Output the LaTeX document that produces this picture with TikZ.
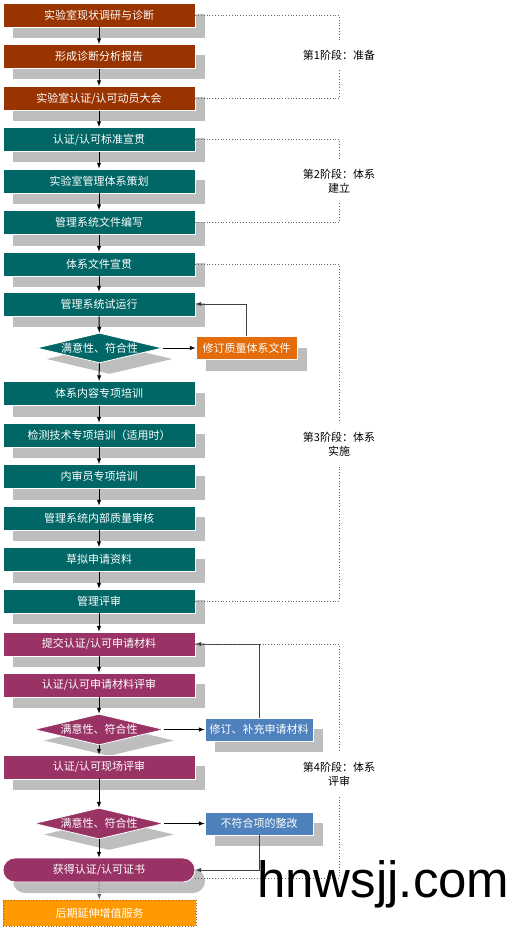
\documentclass[tikz,border=0pt]{standalone}
\usepackage{fontspec}
\setmainfont{Noto Sans CJK SC}
\newfontfamily\wmfont{Liberation Sans}
\usepackage{tikz}
\usetikzlibrary{shapes.geometric, shadows}

\definecolor{rust}{RGB}{153,51,0}
\definecolor{tealbox}{RGB}{0,102,102}
\definecolor{plum}{RGB}{153,51,102}
\definecolor{fixorange}{RGB}{228,108,10}
\definecolor{fixblue}{RGB}{79,129,189}
\definecolor{latergold}{RGB}{255,153,0}
\definecolor{shadowgray}{RGB}{190,190,190}

\begin{document}
\begin{tikzpicture}[x=1pt, y=-1pt,
    boxtext/.style={text=white, font=\fontsize{11}{13}\selectfont, inner sep=0pt},
    boxshadow/.style={drop shadow={shadow xshift=10pt, shadow yshift=-11pt, fill=shadowgray, opacity=1}},
    stage/.style={boxtext, boxshadow, draw=white, line width=0.8pt, minimum width=192pt, minimum height=24pt},
    check/.style={boxtext, boxshadow, diamond, aspect=4, draw=white, line width=0.8pt, minimum width=130pt, minimum height=31pt},
    fixbox/.style={boxtext, boxshadow, draw=white, line width=0.8pt, minimum width=108pt, minimum height=23pt},
    phaselabel/.style={font=\fontsize{11}{14}\selectfont, align=center, inner xsep=0pt, inner ysep=10pt},
    flow/.style={-latex, line width=1pt},
    loopback/.style={-latex, line width=1pt, black!75},
    phaseline/.style={dotted, line width=0.8pt, black!60}]
    \useasboundingbox (0,0) rectangle (512,928);
    % stage 1
    \node[stage, fill=rust] (b1) at (99,15) {实验室现状调研与诊断};
    \node[stage, fill=rust] (b2) at (99,56.5) {形成诊断分析报告};
    \node[stage, fill=rust] (b3) at (99,98.5) {实验室认证/认可动员大会};
    % stage 2
    \node[stage, fill=tealbox] (b4) at (99,139.5) {认证/认可标准宣贯};
    \node[stage, fill=tealbox] (b5) at (99,181) {实验室管理体系策划};
    \node[stage, fill=tealbox] (b6) at (99,222.5) {管理系统文件编写};
    % stage 3
    \node[stage, fill=tealbox] (b7) at (99,264) {体系文件宣贯};
    \node[stage, fill=tealbox] (b8) at (99,304) {管理系统试运行};
    \node[check, fill=tealbox, minimum width=126pt, minimum height=30pt] (d1) at (99.5,348) {满意性、符合性};
    \node[fixbox, fill=fixorange, minimum width=101pt] (fix1) at (246.5,348) {修订质量体系文件};
    \node[stage, fill=tealbox] (b10) at (99,393.5) {体系内容专项培训};
    \node[stage, fill=tealbox] (b11) at (99,435) {检测技术专项培训（适用时）};
    \node[stage, fill=tealbox] (b12) at (99,476.5) {内审员专项培训};
    \node[stage, fill=tealbox] (b13) at (99,518) {管理系统内部质量审核};
    \node[stage, fill=tealbox] (b14) at (99,559.5) {草拟申请资料};
    \node[stage, fill=tealbox] (b15) at (99,601) {管理评审};
    % stage 4
    \node[stage, fill=plum] (b16) at (99,644) {提交认证/认可申请材料};
    \node[stage, fill=plum] (b17) at (99,685) {认证/认可申请材料评审};
    \node[check, fill=plum] (d2) at (99,729.5) {满意性、符合性};
    \node[fixbox, fill=fixblue] (fix2) at (259,729.5) {修订、补充申请材料};
    \node[stage, fill=plum] (b19) at (99,767) {认证/认可现场评审};
    \node[check, fill=plum] (d3) at (99,823.5) {满意性、符合性};
    \node[fixbox, fill=fixblue] (fix3) at (259,823.5) {不符合项的整改};
    \node[stage, fill=plum, rounded corners=12pt] (b21) at (99,870) {获得认证/认可证书};
    \node[boxtext, fill=latergold, draw=orange!70!black, dotted, line width=0.8pt,
          minimum width=193pt, minimum height=26pt] (b22) at (99.5,913) {后期延伸增值服务};

    \foreach \a/\b in {b1/b2, b2/b3, b3/b4, b4/b5, b5/b6, b6/b7, b7/b8, b8/d1, d1/b10,
        b10/b11, b11/b12, b12/b13, b13/b14, b14/b15, b15/b16, b16/b17, b17/d2, d2/b19,
        b19/d3, d3/b21}
        \draw[flow] (\a) -- (\b);
    \draw[flow, dotted, black!60] (b21) -- (b22);
    \draw[flow] (d1.east) -- (fix1.west);
    \draw[flow] (d2.east) -- (fix2.west);
    \draw[flow] (d3.east) -- (fix3.west);
    \draw[loopback] (fix1.north) |- (b8.east);
    \draw[loopback] (fix2.north) |- (b16.east);
    \draw[loopback] (fix3.south) |- (b21.east);

    % phase brackets
    \node[phaselabel] (p1) at (339,55) {第1阶段：准备};
    \node[phaselabel] (p2) at (339,181) {第2阶段：体系\\建立};
    \node[phaselabel] (p3) at (339,444) {第3阶段：体系\\实施};
    \node[phaselabel] (p4) at (339,774) {第4阶段：体系\\评审};
    \draw[phaseline] (b1.east) -| (p1.north);
    \draw[phaseline] (b3.east) -| (p1.south);
    \draw[phaseline] (b4.east) -| (p2.north);
    \draw[phaseline] (b6.east) -| (p2.south);
    \draw[phaseline] (b7.east) -| (p3.north);
    \draw[phaseline] (b15.east) -| (p3.south);
    \draw[phaseline] (b16.east) -| (p4.north);
    \draw[phaseline] ([yshift=-8pt]b21.east) -| (p4.south);

    \node[anchor=base west, inner sep=0pt, font=\wmfont\fontsize{51}{51}\selectfont] (mark) at (257,897) {hnwsjj.com};
\end{tikzpicture}
\end{document}
